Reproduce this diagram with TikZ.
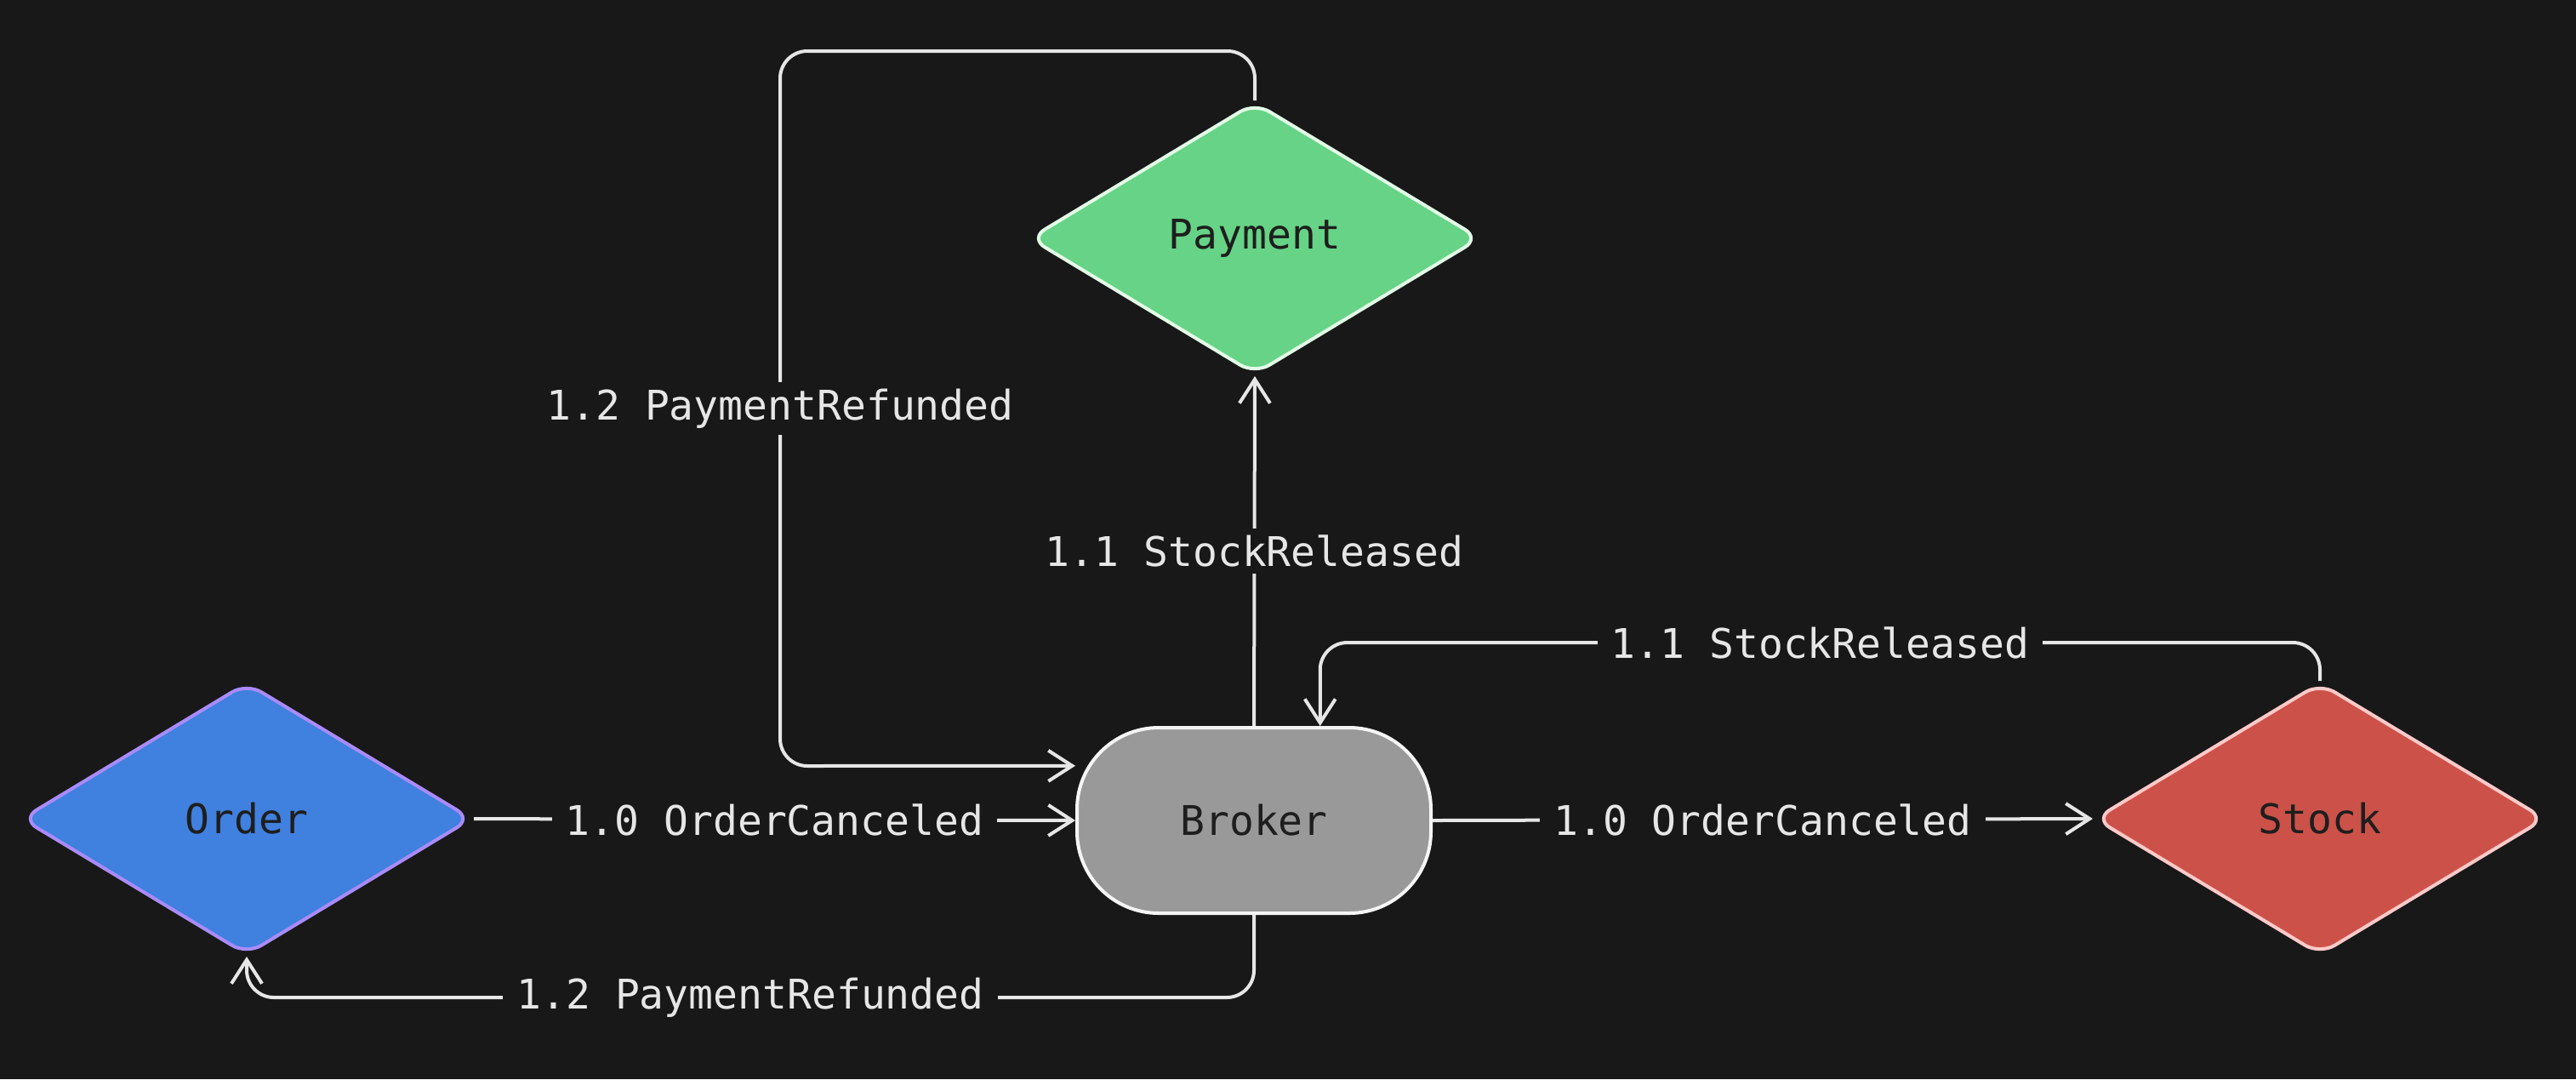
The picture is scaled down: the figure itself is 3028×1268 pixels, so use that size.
\documentclass[tikz,border=0pt]{standalone}
\usepackage{fontspec}
\setmainfont{DejaVu Sans Mono}
\usetikzlibrary{shapes.geometric,arrows.meta}
\definecolor{bg}{HTML}{181818}
\definecolor{edgec}{HTML}{E6E6E6}
\definecolor{ntext}{HTML}{1E1E1E}
\definecolor{orderfill}{HTML}{4080DF}
\definecolor{orderedge}{HTML}{A98BFA}
\definecolor{payfill}{HTML}{66D386}
\definecolor{payedge}{HTML}{E2FBE6}
\definecolor{stockfill}{HTML}{CC5249}
\definecolor{stockedge}{HTML}{FFC9C9}
\definecolor{brokerfill}{HTML}{999999}
\definecolor{brokeredge}{HTML}{F5F5F5}
\tikzset{
  diam/.style={diamond, line width=1pt, rounded corners=5pt, minimum width=132.5pt, minimum height=80pt, inner sep=0pt, text=ntext},
  brokerbox/.style={rectangle, line width=1pt, rounded corners=24pt, minimum width=104pt, minimum height=54.5pt, fill=brokerfill, draw=brokeredge, text=ntext},
  conn/.style={draw=edgec, line width=1pt, rounded corners=8pt, -{Straight Barb[length=7pt,width=9pt,line width=1pt]}},
  lab/.style={fill=bg, text=edgec, inner xsep=4pt, inner ysep=2pt, rounded corners=0pt}
}
\begin{document}
\begin{tikzpicture}[x=0.25pt,y=-0.25pt,font=\fontsize{12}{14}\selectfont]
\fill[bg] (0,0) rectangle (3028,1268);
\useasboundingbox (0,0) rectangle (3028,1268);

\node[diam, fill=orderfill, draw=orderedge] (order) at (290,962) {Order};
\node[diam, fill=payfill, draw=payedge] (payment) at (1475,280) {Payment};
\node[diam, fill=stockfill, draw=stockedge] (stock) at (2727,962) {Stock};
\node[brokerbox] (broker) at (1474,964) {Broker};

\draw[conn] (order.east) -- node[lab] {1.0 OrderCanceled} (broker.west);
\draw[conn] (broker.east) -- node[lab] {1.0 OrderCanceled} (stock.west);
\draw[conn] (broker.north) -- node[lab] {1.1 StockReleased} (payment.south);
\draw[conn] (stock.north) -- (stock.north |- 0,755) -- node[lab] {1.1 StockReleased} (broker.55 |- 0,755) -- (broker.55);
\draw[conn] (broker.south) -- (broker.south |- 0,1172) -- node[lab] {1.2 PaymentRefunded} (order.south |- 0,1172) -- (order.south);
\draw[conn] (payment.north) -- (payment.north |- 0,60) -- (917,60) -- node[lab] {1.2 PaymentRefunded} (917,900) -- (broker.163);
\end{tikzpicture}
\end{document}
